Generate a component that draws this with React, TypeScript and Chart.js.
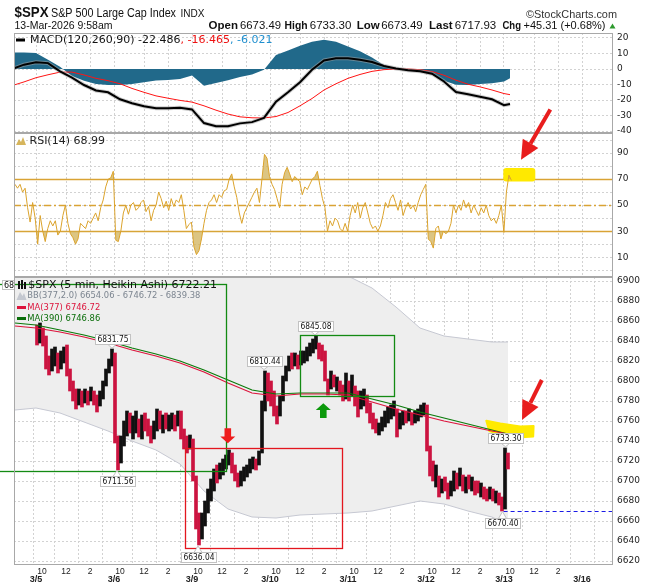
import React, { useEffect, useRef } from 'react';
import { Chart, registerables } from 'chart.js';

Chart.register(...registerables);

const W = 655;
const H = 586;
const FONT = "'DejaVu Sans', Verdana, sans-serif";
const HFONT = "'Liberation Sans', Arial, sans-serif";
const GRID = '#d2d2d2';
const BORDER = '#a8a8a8';

// ---------- time axis ----------
const dayLabels = ['3/5', '3/6', '3/9', '3/10', '3/11', '3/12', '3/13', '3/16'];
const hourLabels = ['10', '12', '2'];
const hourOffsets = [6, 30, 54];
const BARS_PER_DAY = 78;
const X_MIN = -22;
const X_MAX = 577;

// ---------- price candles (each = three 5-min Heikin-Ashi bars) ----------
const CANDLE_GROUP = 3;
const candleLow = [
  6836, 6838, 6835, 6812, 6806, 6810, 6815, 6808, 6812, 6818, 6805, 6790, 6780, 6772, 6776, 6774, 6778, 6776, 6780, 6776, 6769, 6775, 6782, 6795, 6808, 6815,
  6738, 6711, 6718, 6735, 6745, 6748, 6742, 6748, 6744, 6742, 6750, 6745, 6738, 6742, 6750, 6752, 6748, 6752, 6750, 6752, 6750, 6755, 6742, 6732, 6728, 6732,
  6700, 6652, 6636, 6642, 6655, 6668, 6680, 6690, 6698, 6702, 6706, 6712, 6716, 6708, 6700, 6694, 6695, 6700, 6704, 6708, 6712, 6711, 6716, 6728, 6770, 6780,
  6775, 6765, 6757, 6765, 6780, 6800, 6810, 6812, 6815, 6812, 6816, 6818, 6820, 6825, 6828, 6832, 6822, 6820, 6800, 6786, 6792, 6794, 6790, 6786, 6780, 6782,
  6780, 6785, 6775, 6764, 6772, 6775, 6768, 6758, 6752, 6748, 6746, 6750, 6754, 6758, 6762, 6765, 6744, 6752, 6756, 6758, 6760, 6756, 6758, 6760, 6764, 6766,
  6730, 6705, 6700, 6694, 6684, 6688, 6690, 6682, 6685, 6690, 6692, 6695, 6690, 6688, 6692, 6690, 6686, 6688, 6684, 6682, 6680, 6682, 6680, 6678, 6676, 6670,
  6672, 6712,
];
const candleHigh = [
  6856, 6858, 6853, 6845, 6825, 6832, 6834, 6828, 6830, 6834, 6836, 6812, 6800, 6792, 6792, 6790, 6792, 6790, 6794, 6790, 6786, 6790, 6800, 6812, 6822, 6832,
  6828, 6745, 6745, 6760, 6770, 6768, 6765, 6770, 6762, 6766, 6768, 6762, 6755, 6760, 6772, 6770, 6766, 6768, 6766, 6768, 6766, 6770, 6770, 6752, 6745, 6746,
  6742, 6705, 6668, 6668, 6680, 6692, 6702, 6712, 6716, 6718, 6722, 6726, 6731, 6728, 6716, 6708, 6710, 6714, 6716, 6722, 6724, 6722, 6730, 6780, 6810, 6808,
  6800, 6790, 6775, 6785, 6805, 6815, 6825, 6828, 6828, 6826, 6830, 6830, 6834, 6838, 6842, 6845, 6838, 6836, 6830, 6802, 6810, 6806, 6804, 6800, 6796, 6808,
  6800, 6806, 6795, 6790, 6790, 6792, 6786, 6778, 6768, 6762, 6758, 6764, 6770, 6774, 6776, 6780, 6772, 6768, 6770, 6770, 6772, 6768, 6770, 6772, 6776, 6778,
  6776, 6735, 6720, 6716, 6705, 6702, 6704, 6698, 6700, 6710, 6708, 6713, 6706, 6704, 6706, 6704, 6700, 6700, 6698, 6694, 6692, 6694, 6692, 6690, 6688, 6684,
  6733, 6728,
];
const candleUp = [
  0, 1, 0, 0, 0, 1, 1, 0, 1, 1, 0, 0, 0, 0, 1, 0, 1, 0, 1, 0, 0, 1, 1, 1, 1, 1,
  0, 0, 1, 1, 1, 0, 1, 1, 0, 1, 0, 0, 0, 1, 1, 0, 1, 0, 1, 1, 0, 1, 0, 0, 0, 1,
  0, 0, 0, 1, 1, 1, 1, 1, 0, 1, 1, 1, 1, 0, 0, 0, 1, 1, 1, 1, 1, 0, 1, 1, 1, 0,
  0, 0, 0, 1, 1, 1, 1, 0, 1, 0, 1, 1, 1, 1, 1, 1, 0, 0, 0, 0, 1, 0, 1, 0, 0, 1,
  0, 1, 0, 0, 1, 1, 0, 0, 0, 0, 1, 1, 1, 1, 1, 1, 0, 1, 1, 0, 1, 0, 1, 1, 1, 1,
  0, 0, 0, 1, 0, 1, 0, 0, 1, 1, 0, 1, 0, 1, 0, 1, 0, 0, 1, 0, 0, 1, 0, 1, 0, 0,
  1, 0,
];

// ---------- overlays on price ----------
const bbIdx = [-21, 0, 24, 48, 72, 96, 120, 144, 168, 192, 216, 240, 264, 288, 312, 336, 360, 384, 408, 432, 456, 472];
const bbUpper = [6940, 6940, 6936, 6930, 6926, 6924, 6924, 6922, 6925, 6925, 6922, 6918, 6913, 6909, 6905, 6893, 6874, 6853, 6845, 6842, 6839, 6839];
const bbLower = [6771, 6773, 6768, 6759, 6750, 6740, 6731, 6717, 6690, 6672, 6664, 6663, 6666, 6667, 6668, 6670, 6675, 6680, 6677, 6670, 6664, 6656];
const ma377 = [6855, 6853, 6849, 6844, 6838, 6831, 6825, 6818, 6809, 6798, 6788, 6785, 6787, 6787, 6786, 6779, 6772, 6766, 6760, 6755, 6750, 6747];
const ma390 = [6858, 6856, 6851, 6846, 6840, 6833, 6827, 6820, 6811, 6801, 6791, 6787, 6788, 6788, 6788, 6782, 6776, 6769, 6763, 6757, 6751, 6747];

// ---------- MACD ----------
const macdIdx = [-22, -12, 0, 12, 24, 36, 48, 60, 72, 84, 96, 108, 120, 132, 144, 156, 168, 180, 192, 204, 216, 228, 240, 252, 264, 276, 288, 300, 312, 324, 336, 348, 360, 372, 384, 396, 408, 420, 432, 444, 456, 468, 474];
const macdLine = [0.4, 2.8, 4.3, 3.8, -1.5, -5.5, -10.3, -13.8, -15, -19.5, -22, -24, -25.2, -25.2, -25, -26, -34.8, -36.8, -36.8, -35, -34.2, -31.5, -21, -15, -8.5, -0.5, 5.5, 7, 7, 6, 4.5, 2, 0.3, -0.8, -1.5, -3, -8, -14.8, -16.3, -17.8, -19.5, -23.3, -22.5];
const macdSignal = [-10.3, -8.3, -5.6, -3.7, -2.0, -2.0, -3.8, -6.0, -7.5, -9.5, -12.5, -15, -17.3, -18.8, -20.2, -21.3, -23.7, -26.5, -29, -30.8, -31.4, -31.5, -30.6, -28, -23.7, -19, -13.5, -9.5, -6, -3.5, -1.5, -0.4, 0, 0, -0.4, -1.6, -4, -7.2, -9.8, -11.5, -13.5, -15.8, -16.5];
const macdHist = [10.7, 10.7, 10.4, 6, 1.5, -4.5, -7.5, -9.6, -10.3, -10.3, -9.6, -8.5, -7.4, -7, -6.4, -4.2, -10.8, -9, -7.2, -5.2, -3.6, -0.5, 9, 12, 15, 17.5, 18.8, 17.5, 14.5, 11.5, 7.5, 2.5, 0.3, -0.4, -1.4, -3.5, -7.5, -10.2, -10.3, -9.6, -9.2, -8, -6];
const macdTicks = [20, 10, 0, -10, -20, -30, -40];

// ---------- RSI ----------
const RSI_FIRST_BAR = -21;
const RSI_BAR_STEP = 2.52;
const rsiValues = [
  66, 63, 66, 60, 63, 48, 37, 52, 40, 20,
  42, 30, 22, 32, 38, 34, 38, 27, 30, 42,
  50, 36, 28, 25, 20, 24, 36, 34, 32, 38,
  36, 40, 44, 38, 48, 54, 64, 70, 71, 76,
  23, 22, 30, 44, 50, 43, 50, 52, 46, 48,
  52, 54, 45, 49, 38, 46, 50, 60, 55, 48,
  53, 46, 55, 49, 54, 52, 58, 46, 32, 35,
  37, 18, 12, 15, 24, 36, 46, 52, 54, 58,
  52, 58, 56, 61, 62, 70, 74, 64, 56, 44,
  36, 44, 48, 52, 56, 60, 63, 52, 70, 89,
  86, 72, 66, 62, 55, 48, 66, 75, 79, 74,
  68, 72, 70, 68, 58, 64, 62, 66, 70, 72,
  76, 65, 55, 48, 30, 38, 34, 40, 38, 32,
  30, 36, 30, 42, 50, 44, 52, 40, 48, 52,
  44, 36, 32, 34, 30, 34, 42, 52, 48, 55,
  58, 52, 46, 54, 42, 48, 52, 47, 50, 45,
  52, 58, 62, 66, 24, 22, 17, 32, 34, 24,
  30, 28, 30, 36, 50, 44, 50, 46, 54, 48,
  52, 44, 50, 46, 42, 48, 44, 50, 42, 38,
  40, 36, 42, 50, 29, 60, 73, 69,
];
const rsiTicks = [0, 10, 20, 30, 40, 50, 60, 70, 80, 90, 100];
const rsiLabelled = [10, 30, 50, 70, 90];
const rsiLevels = [30, 70];
const rsiMid = 50;

const priceTicks = [6620, 6640, 6660, 6680, 6700, 6720, 6740, 6760, 6780, 6800, 6820, 6840, 6860, 6880, 6900];

// ---------- texts ----------
const headerQuote = ['Open', '6673.49', 'High', '6733.30', 'Low', '6673.49', 'Last', '6717.93', 'Chg', '+45.31 (+0.68%)'];
const headerQuoteX = [208.6, 240, 284.6, 309.8, 356.8, 381.2, 429, 454.7, 502.5, 523.5];
const headerQuoteW = [30, 41, 23, 43, 23, 43, 24, 42, 18.5, 82];
const macdLegend = ['MACD(120,260,90) -22.486', ', -16.465', ', -6.021'];
const rsiLegend = 'RSI(14) 68.99';
const priceLegend = ['$SPX (5 min, Heikin Ashi) 6722.21', 'BB(377,2.0) 6654.06 - 6746.72 - 6839.38', 'MA(377) 6746.72', 'MA(390) 6746.86'];

// ---------- annotations (data units) ----------
const priceTags = [
  { bar: 76, price: 6831.75, above: true },
  { bar: 81, price: 6711.56, above: false },
  { bar: 228, price: 6810.44, above: true },
  { bar: 279, price: 6845.08, above: true },
  { bar: 162, price: 6636.04, above: false },
  { bar: 469.5, price: 6733.3, above: true },
  { bar: 466.5, price: 6670.4, above: false },
];
const redBox = { bar0: 148.6, bar1: 305.6, lo: 6632.7, hi: 6732.7 };
const greenBoxes = [
  { bar0: -40, bar1: 190, lo: 6710, hi: 6896.7 },
  { bar0: 263.6, bar1: 358, lo: 6784.7, hi: 6845.7 },
];
const downArrow = { bar: 191.8, tail: 6752.7, tip: 6737.7 };
const upArrow = { bar: 287.3, tail: 6763, tip: 6777.7 };
const lowLevel = { bar: 467.6, price: 6670.4 };
const mainHighlight = [[450.3, 6760.3], [464.3, 6757.5], [484.3, 6754.5], [497.6, 6755], [497.2, 6744.5], [474.3, 6743], [453.3, 6750]];
const mainPointer = { fromBar: 505.8, fromVal: 6801, toBar: 486, toVal: 6761 };
const rsiHighlight = { bar0: 467.3, bar1: 499.3, lo: 68.2, hi: 78.5 };
const rsiPointer = { fromBar: 514.3, fromVal: 123.5, toBar: 485, toVal: 84.8 };

// ---------- tick helpers ----------
const xTickValues: number[] = [];
const xTickLabel = new Map<number, any>();
const xTenTicks = new Set<number>();
dayLabels.forEach((d, k) => {
  const start = k * BARS_PER_DAY;
  xTickValues.push(start);
  xTickLabel.set(start, ['', d]);
  if (k < dayLabels.length - 1) {
    hourOffsets.forEach((o, j) => {
      const v = start + o;
      xTickValues.push(v);
      xTickLabel.set(v, hourLabels[j]);
      if (hourLabels[j] === '10') xTenTicks.add(v);
    });
  }
});

function xScale(show: boolean) {
  return {
    type: 'linear',
    min: X_MIN,
    max: X_MAX,
    offset: false,
    afterBuildTicks: (s: any) => {
      s.ticks = xTickValues.map((v) => ({ value: v }));
    },
    afterFit: (s: any) => {
      s.height = show ? 21 : 0;
    },
    ticks: {
      display: show,
      autoSkip: false,
      maxRotation: 0,
      minRotation: 0,
      padding: 3,
      color: '#222',
      callback: (v: number) => xTickLabel.get(v) ?? '',
      font: (c: any) => {
        const lab = c.tick ? xTickLabel.get(c.tick.value) : '';
        return Array.isArray(lab)
          ? { family: HFONT, size: 9, weight: 'bold', lineHeight: 0.85 }
          : { family: HFONT, size: 8.5, lineHeight: 0.88 };
      },
    },
    grid: {
      color: (c: any) => (c.tick && xTenTicks.has(c.tick.value) ? 'rgba(0,0,0,0)' : GRID),
      drawTicks: false,
      lineWidth: 1,
    },
    border: { display: false, dash: [2, 2] },
  };
}

function yScale(min: number, max: number, values: number[], label: (v: number) => string) {
  return {
    type: 'linear',
    position: 'right',
    min,
    max,
    afterBuildTicks: (s: any) => {
      s.ticks = values.map((v) => ({ value: v }));
    },
    afterFit: (s: any) => {
      s.width = 42;
    },
    ticks: { callback: (v: number) => label(v), color: '#222', padding: 4, autoSkip: false, font: { family: FONT, size: 9 } },
    grid: { color: GRID, drawTicks: false, lineWidth: 1 },
    border: { display: false, dash: [2, 2] },
  };
}

function baseOptions(padding: any, showX: boolean, y: any) {
  return {
    responsive: false,
    animation: false,
    events: [],
    layout: { padding },
    plugins: { legend: { display: false }, tooltip: { enabled: false } },
    scales: { x: xScale(showX), y },
  };
}

function panelBorder(chart: any) {
  const { ctx, chartArea: a } = chart;
  ctx.save();
  ctx.strokeStyle = BORDER;
  ctx.lineWidth = 1;
  ctx.strokeRect(Math.round(a.left) + 0.5, Math.round(a.top) + 0.5, Math.round(a.width) - 1, Math.round(a.height) - 1);
  ctx.restore();
}

function text(ctx: any, s: string, x: number, y: number, font: string, color: string, maxW?: number) {
  ctx.font = font;
  ctx.fillStyle = color;
  ctx.textAlign = 'left';
  ctx.textBaseline = 'middle';
  if (maxW) ctx.fillText(s, x, y, maxW);
  else ctx.fillText(s, x, y);
  const w = ctx.measureText(s).width;
  return maxW ? Math.min(w, maxW) : w;
}

function pointerArrow(ctx: any, x0: number, y0: number, x1: number, y1: number, color: string) {
  const ang = Math.atan2(y1 - y0, x1 - x0);
  const headL = 19;
  const headW = 9;
  const bx = x1 - headL * Math.cos(ang);
  const by = y1 - headL * Math.sin(ang);
  ctx.save();
  ctx.strokeStyle = color;
  ctx.lineWidth = 4;
  ctx.beginPath();
  ctx.moveTo(x0, y0);
  ctx.lineTo(bx, by);
  ctx.stroke();
  ctx.fillStyle = color;
  ctx.beginPath();
  ctx.moveTo(x1, y1);
  ctx.lineTo(bx + headW * Math.sin(ang), by - headW * Math.cos(ang));
  ctx.lineTo(bx - headW * Math.sin(ang), by + headW * Math.cos(ang));
  ctx.closePath();
  ctx.fill();
  ctx.restore();
}

function blockArrow(ctx: any, x: number, yTail: number, yTip: number, color: string) {
  const dir = yTip > yTail ? 1 : -1;
  const len = Math.abs(yTip - yTail);
  const yHead = yTip - dir * len * 0.45;
  ctx.save();
  ctx.fillStyle = color;
  ctx.beginPath();
  ctx.moveTo(x - 3.3, yTail);
  ctx.lineTo(x + 3.3, yTail);
  ctx.lineTo(x + 3.3, yHead);
  ctx.lineTo(x + 7.5, yHead);
  ctx.lineTo(x, yTip);
  ctx.lineTo(x - 7.5, yHead);
  ctx.lineTo(x - 3.3, yHead);
  ctx.closePath();
  ctx.fill();
  ctx.restore();
}

function priceTag(ctx: any, x: number, yPt: number, label: string, above: boolean) {
  ctx.save();
  ctx.font = `8px ${FONT}`;
  const tw = Math.min(ctx.measureText(label).width, 31);
  const bw = tw + 4;
  const bh = 10;
  const bx = Math.round(x - bw / 2) + 0.5;
  const by = above ? Math.round(yPt - 5 - bh) + 0.5 : Math.round(yPt + 7) + 0.5;
  ctx.strokeStyle = '#c2c2c2';
  ctx.fillStyle = '#fff';
  ctx.lineWidth = 1;
  ctx.beginPath();
  if (above) {
    ctx.moveTo(x - 4, by + bh);
    ctx.lineTo(x, yPt - 1);
    ctx.lineTo(x + 4, by + bh);
  } else {
    ctx.moveTo(x - 4, by);
    ctx.lineTo(x, yPt + 1);
    ctx.lineTo(x + 4, by);
  }
  ctx.closePath();
  ctx.fill();
  ctx.stroke();
  ctx.fillRect(bx, by, bw, bh);
  ctx.strokeRect(bx, by, bw, bh);
  ctx.fillStyle = '#111';
  ctx.textAlign = 'center';
  ctx.textBaseline = 'middle';
  ctx.fillText(label, bx + bw / 2, by + bh / 2 + 0.5, 31);
  ctx.restore();
}

// ---------- plugins ----------
const macdPlugin = {
  id: 'macdDeco',
  afterDraw(chart: any) {
    const ctx = chart.ctx;
    panelBorder(chart);
    ctx.save();
    text(ctx, '$SPX', 14.5, 13, `bold 15.5px ${HFONT}`, '#111', 34);
    text(ctx, 'S&P 500 Large Cap Index', 51, 13.5, `12px ${HFONT}`, '#111', 125);
    text(ctx, 'INDX', 180.5, 13.5, `11px ${HFONT}`, '#111', 24);
    text(ctx, '\u00A9StockCharts.com', 526, 14.5, `11.5px ${HFONT}`, '#333', 91);
    text(ctx, '13-Mar-2026 9:58am', 14.5, 26, `11px ${HFONT}`, '#111', 98);
    headerQuote.forEach((s, i) => {
      const bold = i % 2 === 0 && i < 9;
      text(ctx, s, headerQuoteX[i], 26, `${bold ? 'bold ' : ''}11.5px ${HFONT}`, '#111', headerQuoteW[i]);
    });
    ctx.fillStyle = '#2e9a2e';
    ctx.beginPath();
    ctx.moveTo(609.5, 28.5);
    ctx.lineTo(615.5, 28.5);
    ctx.lineTo(612.5, 23.5);
    ctx.closePath();
    ctx.fill();
    ctx.fillStyle = '#000';
    ctx.fillRect(16, 38.5, 9, 3);
    let lx = 30;
    lx += text(ctx, macdLegend[0], lx, 40, `11px ${FONT}`, '#111', 154);
    lx += text(ctx, macdLegend[1], lx, 40, `11px ${FONT}`, '#ee1111', 52);
    text(ctx, macdLegend[2], lx, 40, `11px ${FONT}`, '#1f8fcf', 44);
    ctx.restore();
  },
};

const rsiPlugin = {
  id: 'rsiDeco',
  beforeDatasetsDraw(chart: any) {
    const { ctx, chartArea: a, scales } = chart;
    const x = scales.x;
    const y = scales.y;
    ctx.save();
    ctx.strokeStyle = '#d9a334';
    ctx.lineWidth = 1.3;
    rsiLevels.forEach((lv) => {
      const py = Math.round(y.getPixelForValue(lv)) + 0.5;
      ctx.beginPath();
      ctx.moveTo(a.left, py);
      ctx.lineTo(a.right, py);
      ctx.stroke();
    });
    ctx.setLineDash([7, 3, 2, 3]);
    const pm = Math.round(y.getPixelForValue(rsiMid)) + 0.5;
    ctx.beginPath();
    ctx.moveTo(a.left, pm);
    ctx.lineTo(a.right, pm);
    ctx.stroke();
    ctx.setLineDash([]);
    const hx0 = x.getPixelForValue(rsiHighlight.bar0);
    const hx1 = x.getPixelForValue(rsiHighlight.bar1);
    const hy0 = y.getPixelForValue(rsiHighlight.hi);
    const hy1 = y.getPixelForValue(rsiHighlight.lo);
    ctx.fillStyle = '#ffe900';
    ctx.beginPath();
    if (ctx.roundRect) ctx.roundRect(hx0, hy0, hx1 - hx0, hy1 - hy0, 3);
    else ctx.rect(hx0, hy0, hx1 - hx0, hy1 - hy0);
    ctx.fill();
    ctx.restore();
  },
  afterDraw(chart: any) {
    const { ctx, scales } = chart;
    panelBorder(chart);
    ctx.save();
    ctx.fillStyle = '#d6b55c';
    ctx.beginPath();
    ctx.moveTo(16, 145);
    ctx.lineTo(19, 139);
    ctx.lineTo(21, 142);
    ctx.lineTo(23, 137);
    ctx.lineTo(26, 145);
    ctx.closePath();
    ctx.fill();
    text(ctx, rsiLegend, 29.5, 141, `11px ${FONT}`, '#222', 81);
    pointerArrow(
      ctx,
      scales.x.getPixelForValue(rsiPointer.fromBar),
      scales.y.getPixelForValue(rsiPointer.fromVal),
      scales.x.getPixelForValue(rsiPointer.toBar),
      scales.y.getPixelForValue(rsiPointer.toVal),
      '#e81d1d'
    );
    ctx.restore();
  },
};

const CANDLE_DATASET = 2;

const mainPlugin = {
  id: 'mainDeco',
  afterDatasetDraw(chart: any, args: any) {
    if (args.index !== CANDLE_DATASET) return;
    const { ctx, scales } = chart;
    const x = scales.x;
    const y = scales.y;
    ctx.save();
    ctx.fillStyle = '#ffea00';
    ctx.strokeStyle = '#ffea00';
    ctx.lineJoin = 'round';
    ctx.lineWidth = 2;
    ctx.beginPath();
    mainHighlight.forEach((p, i) => {
      const px = x.getPixelForValue(p[0]);
      const py = y.getPixelForValue(p[1]);
      if (i) ctx.lineTo(px, py);
      else ctx.moveTo(px, py);
    });
    ctx.closePath();
    ctx.fill();
    ctx.stroke();
    ctx.restore();
  },
  afterDatasetsDraw(chart: any) {
    const { ctx, chartArea: a, scales } = chart;
    const x = scales.x;
    const y = scales.y;
    ctx.save();
    ctx.strokeStyle = '#1a1ae6';
    ctx.lineWidth = 1.2;
    ctx.setLineDash([4, 3]);
    const ly = Math.round(y.getPixelForValue(lowLevel.price)) + 0.5;
    ctx.beginPath();
    ctx.moveTo(x.getPixelForValue(lowLevel.bar), ly);
    ctx.lineTo(a.right, ly);
    ctx.stroke();
    ctx.setLineDash([]);
    const box = (b: any, color: string) => {
      const x0 = Math.round(x.getPixelForValue(b.bar0)) + 0.5;
      const x1 = Math.round(x.getPixelForValue(b.bar1)) + 0.5;
      const y0 = Math.round(y.getPixelForValue(b.hi)) + 0.5;
      const y1 = Math.round(y.getPixelForValue(b.lo)) + 0.5;
      ctx.strokeStyle = color;
      ctx.lineWidth = 1.3;
      ctx.strokeRect(x0, y0, x1 - x0, y1 - y0);
    };
    greenBoxes.forEach((b) => box(b, '#138a13'));
    box(redBox, '#e3161e');
    blockArrow(ctx, x.getPixelForValue(downArrow.bar), y.getPixelForValue(downArrow.tail), y.getPixelForValue(downArrow.tip), '#ee1c1c');
    blockArrow(ctx, x.getPixelForValue(upArrow.bar), y.getPixelForValue(upArrow.tail), y.getPixelForValue(upArrow.tip), '#0c990c');
    pointerArrow(
      ctx,
      x.getPixelForValue(mainPointer.fromBar),
      y.getPixelForValue(mainPointer.fromVal),
      x.getPixelForValue(mainPointer.toBar),
      y.getPixelForValue(mainPointer.toVal),
      '#e81d1d'
    );
    priceTags.forEach((t) => priceTag(ctx, x.getPixelForValue(t.bar), y.getPixelForValue(t.price), t.price.toFixed(2), t.above));
    ctx.restore();
  },
  afterDraw(chart: any) {
    const ctx = chart.ctx;
    panelBorder(chart);
    ctx.save();
    ctx.save();
    ctx.beginPath();
    ctx.rect(0, 275, 14, 20);
    ctx.clip();
    ctx.fillStyle = '#fff';
    ctx.fillRect(2.5, 280.5, 40, 9);
    ctx.strokeStyle = '#c2c2c2';
    ctx.strokeRect(2.5, 280.5, 40, 9);
    text(ctx, '6855.93', 4, 285.5, `8px ${FONT}`, '#111');
    ctx.restore();
    ctx.fillStyle = '#111';
    ctx.fillRect(18, 281, 2, 8);
    ctx.fillRect(21, 280, 2, 9);
    ctx.fillRect(24, 282, 2, 7);
    text(ctx, priceLegend[0], 28.3, 285, `11px ${FONT}`, '#111', 194);
    ctx.fillStyle = '#c4c8d0';
    ctx.beginPath();
    ctx.moveTo(16.5, 300);
    ctx.lineTo(20, 292);
    ctx.lineTo(22.5, 296);
    ctx.lineTo(24, 293);
    ctx.lineTo(26.5, 300);
    ctx.closePath();
    ctx.fill();
    text(ctx, priceLegend[1], 27.3, 296, `9px ${FONT}`, '#7c8590', 173);
    ctx.fillStyle = '#dc143c';
    ctx.fillRect(17, 306, 9, 3);
    text(ctx, priceLegend[2], 27.3, 307.5, `9px ${FONT}`, '#dc143c', 73);
    ctx.fillStyle = '#0a6e0a';
    ctx.fillRect(17, 317, 9, 3);
    text(ctx, priceLegend[3], 27.3, 318.5, `9px ${FONT}`, '#0a6e0a', 73);
    ctx.restore();
  },
};

// ---------- configs ----------
function macdConfig(): any {
  const pts = (arr: number[]) => arr.map((v, i) => ({ x: macdIdx[i], y: v }));
  return {
    type: 'line',
    data: {
      datasets: [
        { data: pts(macdHist), borderWidth: 0, borderColor: 'rgba(0,0,0,0)', backgroundColor: '#21698a', fill: 'origin', pointRadius: 0, order: 4 },
        { data: pts(macdSignal), borderColor: '#ff1414', borderWidth: 1, pointRadius: 0, fill: false, order: 3 },
        { data: pts(macdLine), borderColor: 'rgba(160,160,160,0.55)', borderWidth: 4, pointRadius: 0, fill: false, order: 2 },
        { data: pts(macdLine), borderColor: '#000', borderWidth: 2, pointRadius: 0, fill: false, order: 1 },
      ],
    },
    options: baseOptions({ left: 14, top: 33, right: 0, bottom: H - 133 }, false, yScale(-41.2, 23.2, macdTicks, (v) => String(v))),
    plugins: [macdPlugin],
  };
}

function rsiConfig(): any {
  const pts = () => rsiValues.map((v, k) => ({ x: RSI_FIRST_BAR + k * RSI_BAR_STEP, y: v }));
  const khaki = 'rgba(208, 178, 90, 0.75)';
  return {
    type: 'line',
    data: {
      datasets: [
        { data: pts(), borderColor: '#dba32c', borderWidth: 1, pointRadius: 0, fill: { target: { value: 70 }, above: khaki, below: 'rgba(0,0,0,0)' }, order: 1 },
        { data: pts(), borderColor: 'rgba(0,0,0,0)', borderWidth: 0, pointRadius: 0, fill: { target: { value: 30 }, above: 'rgba(0,0,0,0)', below: khaki }, order: 2 },
      ],
    },
    options: baseOptions(
      { left: 14, top: 133, right: 0, bottom: H - 277 },
      false,
      yScale(-5.2, 105.4, rsiTicks, (v) => (rsiLabelled.includes(v) ? String(v) : ''))
    ),
    plugins: [rsiPlugin],
  };
}

function priceConfig(): any {
  const pts = (arr: number[]) => arr.map((v, i) => ({ x: bbIdx[i], y: v }));
  const candles = candleLow.map((lo, g) => ({ x: g * CANDLE_GROUP + 1, y: [lo, candleHigh[g]] }));
  const colors = candleUp.map((u) => (u ? '#111111' : '#cc1440'));
  return {
    type: 'line',
    data: {
      datasets: [
        { data: pts(bbUpper), borderColor: '#c6c8d2', borderWidth: 1, backgroundColor: '#eeeeee', fill: '+1', pointRadius: 0, order: 6 },
        { data: pts(bbLower), borderColor: '#c6c8d2', borderWidth: 1, fill: false, pointRadius: 0, order: 5 },
        { type: 'bar', data: candles, backgroundColor: colors, borderWidth: 0, barThickness: 3, order: 3 },
        { data: pts(ma390), borderColor: '#0a7a0a', borderWidth: 1.2, pointRadius: 0, fill: false, order: 2 },
        { data: pts(ma377), borderColor: '#dc143c', borderWidth: 1.2, pointRadius: 0, fill: false, order: 1 },
      ],
    },
    options: baseOptions({ left: 14, top: 277, right: 0, bottom: 0 }, true, yScale(6616, 6904, priceTicks, (v) => String(v))),
    plugins: [mainPlugin],
  };
}

export default function App() {
  const refA = useRef<HTMLCanvasElement>(null);
  const refB = useRef<HTMLCanvasElement>(null);
  const refC = useRef<HTMLCanvasElement>(null);
  useEffect(() => {
    const charts = [
      new Chart(refA.current as any, macdConfig()),
      new Chart(refB.current as any, rsiConfig()),
      new Chart(refC.current as any, priceConfig()),
    ];
    return () => charts.forEach((c) => c.destroy());
  }, []);
  const cs: any = { position: 'absolute', left: 0, top: 0, width: W, height: H };
  return (
    <div style={{ position: 'absolute', left: 0, top: 0, width: W, height: H, background: '#fff', overflow: 'hidden' }}>
      <canvas ref={refA} width={W} height={H} style={cs} />
      <canvas ref={refB} width={W} height={H} style={cs} />
      <canvas ref={refC} width={W} height={H} style={cs} />
    </div>
  );
}
